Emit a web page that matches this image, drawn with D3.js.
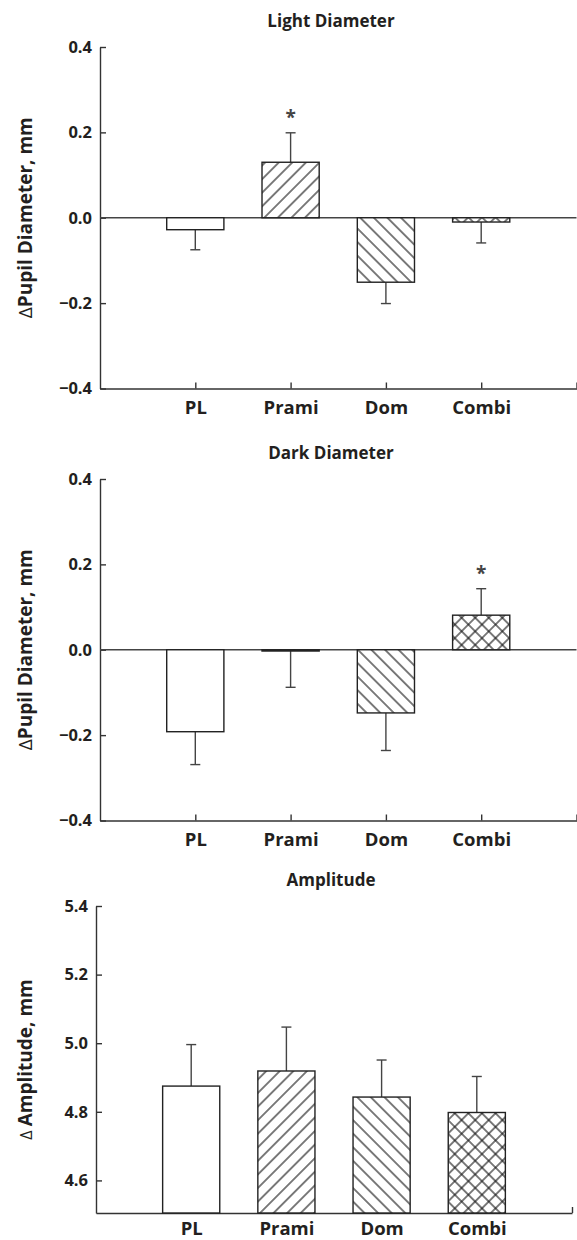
<!doctype html>
<html>
<head>
<meta charset="utf-8">
<style>
    body { margin: 0; background: #fff; }
    svg text { font-family: "Open Sans", Lato, sans-serif; font-weight: bold; fill: #231f20; }
    .axis path, .axis line { stroke: #333; stroke-width: 1.4; }
    .axis text { font-family: "Open Sans", sans-serif; font-weight: bold; fill: #231f20; }
    .xaxis text { font-size: 18.5px; }
    .yaxis text { font-size: 16.5px; }
</style>
<script src="https://d3js.org/d3.v7.min.js"></script>
</head>
<body>
<svg width="577" height="1240"></svg>
<script>

// data
var categories = ["PL", "Prami", "Dom", "Combi"];
var fills = ["white", "url(#fwd)", "url(#back)", "url(#cross)"];

var lightMean = [-0.028, 0.130, -0.151, -0.010];
var lightErr  = [0.047, 0.069, 0.050, 0.049];
var lightStar = [false, true, false, false];

var darkMean = [-0.192, -0.003, -0.148, 0.081];
var darkErr  = [0.077, 0.085, 0.088, 0.062];
var darkStar = [false, false, false, true];

var ampMean = [4.875, 4.919, 4.843, 4.798];
var ampErr  = [0.121, 0.128, 0.108, 0.105];
var ampStar = [false, false, false, false];

var diamTicks = [-0.4, -0.2, 0, 0.2, 0.4];
var ampTicks = [4.6, 4.8, 5.0, 5.2, 5.4];

var svg = d3.select("svg");

// hatch patterns
var defs = svg.append("defs");
function hatch(id, angle, cross) {
    var d = 9.6;
    var p = defs.append("pattern")
        .attr("id", id)
        .attr("patternUnits", "userSpaceOnUse")
        .attr("width", d).attr("height", d)
        .attr("patternTransform", "rotate(" + angle + ")");
    p.append("rect").attr("width", d).attr("height", d).attr("fill", "white");
    p.append("line").attr("x1", d / 2).attr("x2", d / 2).attr("y1", 0).attr("y2", d)
        .attr("stroke", "#111").attr("stroke-width", 1.1);
    if (cross) {
        p.append("line").attr("y1", d / 2).attr("y2", d / 2).attr("x1", 0).attr("x2", d)
            .attr("stroke", "#111").attr("stroke-width", 1.1);
    }
}
hatch("fwd", 45, false);
hatch("back", -45, false);
hatch("cross", 45, true);

function panel(opt) {
    var g = svg.append("g");
    var x = d3.scaleLinear().domain([0, 5]).range([opt.left, opt.right]);
    var y = d3.scaleLinear().domain(opt.domain).range([opt.bottom, opt.top]);
    var base = opt.base;
    var bw = (x(1) - x(0)) * 0.6;

    // title
    g.append("text")
        .attr("x", 331).attr("y", opt.top - 20)
        .attr("text-anchor", "middle")
        .style("font-size", "17px")
        .text(opt.title);

    // y label
    var lab = g.append("text")
        .attr("transform", "translate(32," + ((opt.top + opt.bottom) / 2) + ") rotate(-90)")
        .attr("text-anchor", "middle")
        .style("font-size", "19px");
    lab.append("tspan").style("font-weight", "normal").style("font-size", opt.deltaSize).text(opt.delta);
    lab.append("tspan").text(opt.label);

    // x axis, ticks pointing up
    g.append("g")
        .attr("class", "axis xaxis")
        .attr("transform", "translate(0," + opt.bottom + ")")
        .call(d3.axisBottom(x)
            .tickValues([1, 2, 3, 4, 5])
            .tickFormat(function(d) { return categories[d - 1] || ""; })
            .tickSizeInner(-6).tickSizeOuter(0).tickPadding(opt.pad));

    g.append("g")
        .attr("class", "axis yaxis")
        .attr("transform", "translate(" + opt.left + ",0)")
        .call(d3.axisLeft(y)
            .tickValues(opt.ticks)
            .tickFormat(d3.format(".1f"))
            .tickSizeInner(-6).tickSizeOuter(0).tickPadding(8));

    if (opt.zeroLine) {
        g.append("line")
            .attr("x1", opt.left).attr("x2", opt.right)
            .attr("y1", y(0)).attr("y2", y(0))
            .attr("stroke", "#444").attr("stroke-width", 1.4);
    }

    var idx = d3.range(categories.length);

    // error bars, one sided
    idx.forEach(function(i) {
        var m = opt.mean[i], e = opt.err[i];
        var end = m >= base ? m + e : m - e;
        var cx = x(i + 1);
        g.append("line")
            .attr("x1", cx).attr("x2", cx)
            .attr("y1", y(m)).attr("y2", y(end))
            .attr("stroke", "#444").attr("stroke-width", 1.4);
        g.append("line")
            .attr("x1", cx - 5).attr("x2", cx + 5)
            .attr("y1", y(end)).attr("y2", y(end))
            .attr("stroke", "#444").attr("stroke-width", 1.4);
        if (opt.star[i]) {
            g.append("text")
                .attr("x", cx).attr("y", y(end) - 9)
                .attr("text-anchor", "middle")
                .style("font-size", "19px").style("fill", "#444")
                .text("*");
        }
    });

    g.selectAll(".bar")
        .data(idx)
        .enter().append("rect")
        .attr("class", "bar")
        .attr("x", function(i) { return x(i + 1) - bw / 2; })
        .attr("width", bw)
        .attr("y", function(i) { return y(Math.max(opt.mean[i], base)); })
        .attr("height", function(i) { return Math.abs(y(opt.mean[i]) - y(base)); })
        .attr("fill", function(i) { return fills[i]; })
        .attr("stroke", "#222")
        .attr("stroke-width", 1.4);
}

panel({
    title: "Light Diameter", delta: "\u0394", deltaSize: "19px", label: "Pupil Diameter, mm",
    mean: lightMean, err: lightErr, star: lightStar, ticks: diamTicks,
    domain: [-0.4, 0.4], base: 0, zeroLine: true, pad: 12,
    left: 100, right: 576.5, top: 47, bottom: 388.5
});

panel({
    title: "Dark Diameter", delta: "\u0394", deltaSize: "19px", label: "Pupil Diameter, mm",
    mean: darkMean, err: darkErr, star: darkStar, ticks: diamTicks,
    domain: [-0.4, 0.4], base: 0, zeroLine: true, pad: 12,
    left: 100, right: 576.5, top: 479, bottom: 820.5
});

panel({
    title: "Amplitude", delta: "\u0394 ", deltaSize: "16px", label: "Amplitude, mm",
    mean: ampMean, err: ampErr, star: ampStar, ticks: ampTicks,
    domain: [4.505, 5.4], base: 4.505, zeroLine: false, pad: 9,
    left: 96, right: 572, top: 906, bottom: 1213
});

</script>
</body>
</html>
